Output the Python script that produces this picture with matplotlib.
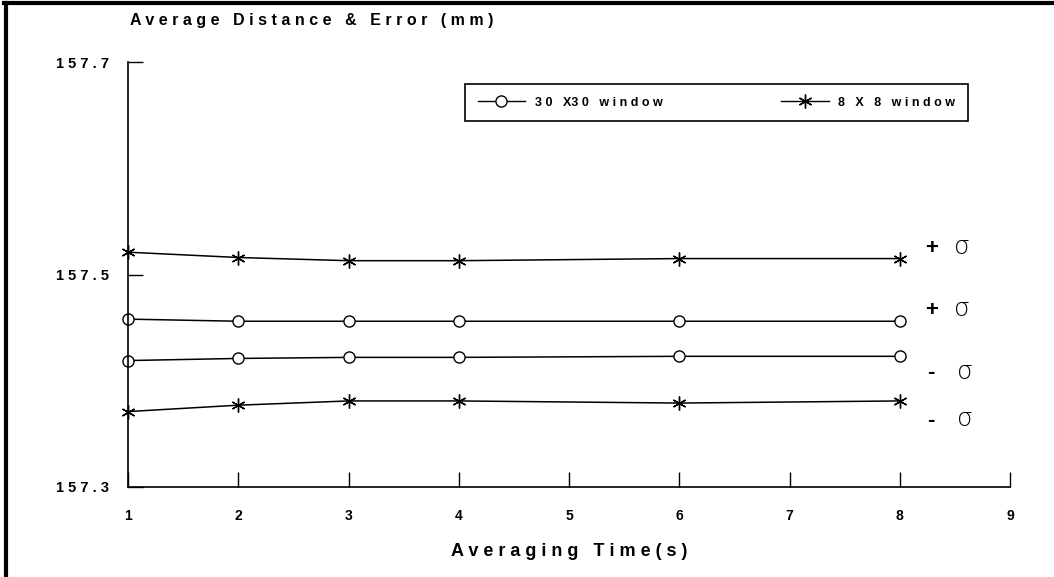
import matplotlib
matplotlib.use("Agg")
import matplotlib.pyplot as plt
from matplotlib.lines import Line2D

# averaging time (s)
times = [1, 2, 3, 4, 6, 8]

# 8 x 8 window, mean +/- sigma (mm)
star_plus = [157.521, 157.516, 157.513, 157.513, 157.515, 157.515]
star_minus = [157.371, 157.377, 157.381, 157.381, 157.379, 157.381]

# 30 x 30 window, mean +/- sigma (mm)
circ_plus = [157.458, 157.456, 157.456, 157.456, 157.456, 157.456]
circ_minus = [157.419, 157.421, 157.422, 157.422, 157.423, 157.423]

yticks = [157.3, 157.5, 157.7]
xticks = [1, 2, 3, 4, 5, 6, 7, 8, 9]


def spaced(s):
    # typewriter style wide letter spacing, words get extra room
    return "   ".join(" ".join(w) for w in s.split(" "))


plt.rcParams["font.family"] = ["Liberation Sans", "DejaVu Sans"]
plt.rcParams["font.weight"] = "bold"

fig = plt.figure(figsize=(10.54, 5.77), dpi=100)
ax = fig.add_axes([128 / 1054, 1 - 487 / 577, 882 / 1054, 425 / 577])

star = (6, 2, 0)
kw = dict(color="black", lw=1.1, clip_on=False)
ax.plot(times, star_plus, marker=star, ms=10, mew=1.0, **kw)
ax.plot(times, circ_plus, marker="o", ms=8, mfc="white", mew=1.0, **kw)
ax.plot(times, circ_minus, marker="o", ms=8, mfc="white", mew=1.0, **kw)
ax.plot(times, star_minus, marker=star, ms=10, mew=1.0, **kw)

# +/- sigma notes at the right end of each curve
notes = [(star_plus, "+", 7, 18), (circ_plus, "+", 8, 18), (circ_minus, "-", -12, 20), (star_minus, "-", -14, 20)]
for series, sign, dy, dx in notes:
    ax.annotate(sign, xy=(times[-1], series[-1]), xytext=(dx, dy), textcoords="offset points",
                fontsize=16, fontweight="heavy", va="center", ha="left")
    ax.annotate("σ", xy=(times[-1], series[-1]), xytext=(dx + 21, dy + 1),
                textcoords="offset points", fontsize=18, fontweight=200,
                family="DejaVu Sans", va="center", ha="left")

ax.set_xlim(1, 9)
ax.set_ylim(157.3, 157.7)
ax.set_xticks(xticks)
ax.set_xticklabels([str(t) for t in xticks])
ax.set_yticks(yticks)
ax.set_yticklabels([spaced(f"{v:.1f}") for v in yticks])
ax.tick_params(axis="x", direction="in", length=11, width=1, pad=16, labelsize=10)
ax.tick_params(axis="y", direction="in", length=11, width=1, pad=14, labelsize=10.5)
for side in ("top", "right"):
    ax.spines[side].set_visible(False)
for side in ("left", "bottom"):
    ax.spines[side].set_linewidth(1.2)

ax.set_xlabel(spaced("Averaging Time(s)"), fontsize=13, fontweight="bold", labelpad=14)
fig.text(130 / 1054, 1 - 20 / 577, spaced("Average Distance & Error (mm)"),
         fontsize=11.5, fontweight="bold", ha="left", va="center")

handles = [
    Line2D([], [], color="black", lw=1.0, marker="o", ms=8, mfc="white"),
    Line2D([], [], color="black", lw=1.0, marker=star, ms=10),
]
labels = ["3 0   X3 0   w i n d o w", "8   X   8   w i n d o w"]
leg = ax.legend(handles, labels, loc="upper left", ncol=2, mode="expand",
                bbox_to_anchor=(337 / 882, 0.866, 503 / 882, 0.082),
                fancybox=False, edgecolor="black", framealpha=1, fontsize=9,
                handlelength=3.8, borderpad=1.0, borderaxespad=0)
leg.get_frame().set_linewidth(1.2)

# page frame (top and left edge of the scan)
fig.add_artist(Line2D([0.004, 1.0], [0.994, 0.994], color="black", lw=3, transform=fig.transFigure))
fig.add_artist(Line2D([0.006, 0.006], [0.0, 0.994], color="black", lw=3, transform=fig.transFigure))

fig.savefig("out.png", dpi=100)
